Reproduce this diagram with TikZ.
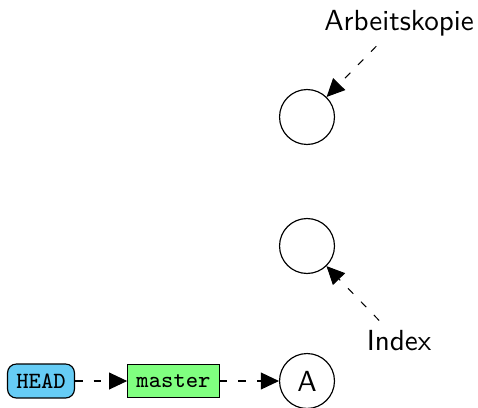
\documentclass[tikz,border=0pt]{standalone}
\usepackage{tikz}
\usetikzlibrary{arrows.meta, positioning, shapes}

\begin{document}
\begin{tikzpicture}[
    x=0.344pt, y=-0.344pt,
    commit/.style={circle, draw=black, minimum size=18.9pt, inner sep=0pt, font=\sffamily},
    headref/.style={rounded corners=3pt, draw=black, fill={rgb,255:red,102;green,204;blue,245}, font=\ttfamily\footnotesize, minimum height=10pt, inner xsep=3pt},
    branchref/.style={draw=black, fill=green!50, font=\ttfamily\footnotesize, minimum height=8.6pt, inner xsep=3pt},
    place/.style={font=\sffamily},
    pointer/.style={-{Triangle[length=6.2pt, width=5.8pt]}, dash pattern=on 2.6pt off 3.8pt, line width=0.35pt}
]
\useasboundingbox (0,0) rectangle (478,407);

% ===== COMMITS =====
\node[commit] (ca) at (307,381) {A};
\node[commit] (cidx) at (307,246) {};
\node[commit] (cwork) at (307,117) {};

% ===== REFERENCES =====
\node[headref] (head) at (41,381) {HEAD};
\node[branchref] (master) at (173.5,381) {master};

% Labels for working copy and index
\node[place] (work) at (399,23) {Arbeitskopie};
\node[place] (idx) at (399,341) {Index};

% Pointers
\draw[pointer] (head) -- (master);
\draw[pointer] (master) -- (ca);
\draw[pointer] (work) -- (cwork);
\draw[pointer] (idx) -- (cidx);

\end{tikzpicture}
\end{document}
